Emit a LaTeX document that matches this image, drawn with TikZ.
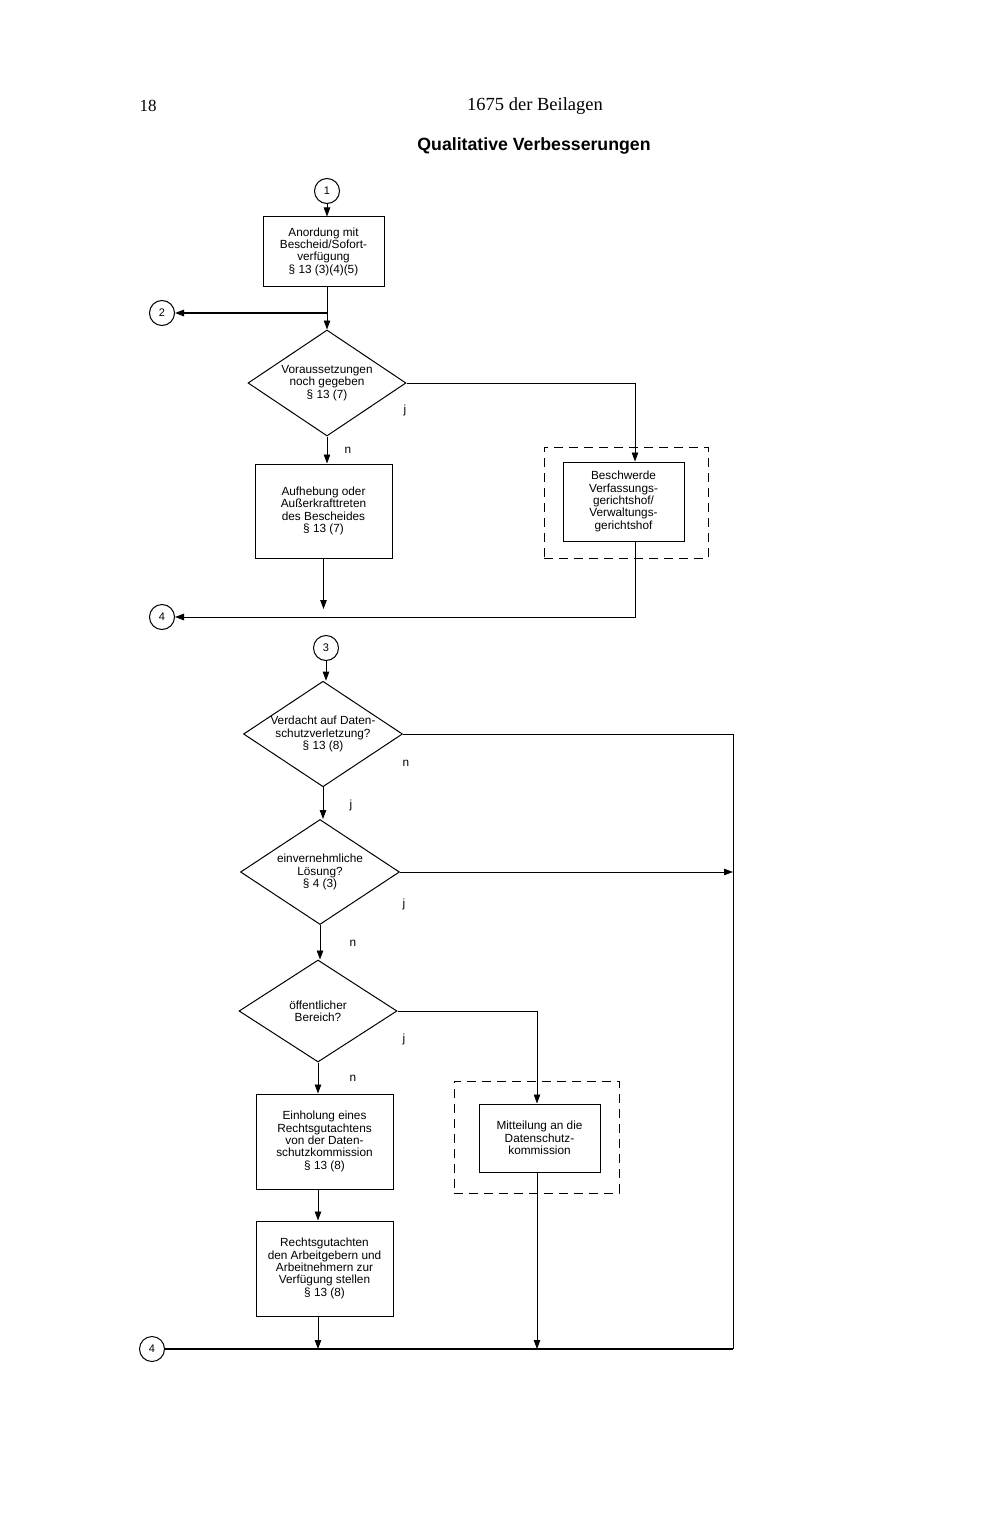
\documentclass[tikz,border=0pt]{standalone}
\usepackage{fontspec}
\setmainfont{Liberation Serif}
\setsansfont{Liberation Sans}
\usetikzlibrary{shapes.geometric,arrows.meta}

\begin{document}
\begin{tikzpicture}[x=1pt, y=-1pt, line width=0.8pt,
  every node/.style={font=\sffamily\fontsize{11.8}{12.3}\selectfont},
  box/.style={draw, line width=1pt, align=center, inner sep=2pt},
  ask/.style={draw, line width=1pt, diamond, aspect=1.5, inner sep=0pt, align=center},
  conn/.style={draw, line width=1pt, circle, minimum size=25pt, inner sep=0pt, font=\sffamily\fontsize{11}{12}\selectfont},
  dashframe/.style={draw, line width=1pt, dash pattern=on 9pt off 6pt, inner sep=0pt},
  arr/.style={-{Triangle[length=9pt,width=6.5pt]}}]
  \useasboundingbox (0,0) rectangle (994,1530);
  \node[font=\rmfamily\fontsize{17}{20}\selectfont] (pnum) at (148,106) {18};
  \node[font=\rmfamily\fontsize{18.5}{22}\selectfont] (hdr) at (535,106) {1675 der Beilagen};
  \node[font=\sffamily\bfseries\fontsize{17.7}{21}\selectfont] (title) at (534,146) {Qualitative Verbesserungen};
  % upper part
  \node[conn] (c1) at (327,191) {1};
  \node[box, minimum width=121pt, minimum height=69pt] (anord) at (323.5,251.5) {Anordung mit\\Bescheid/Sofort-\\verfügung\\§ 13 (3)(4)(5)};
  \node[conn] (c2) at (162,313) {2};
  \node[ask, minimum width=158pt, minimum height=106pt] (vor) at (327,383) {Voraussetzungen\\noch gegeben\\§ 13 (7)};
  \node[box, minimum width=137pt, minimum height=94pt] (aufh) at (323.5,511) {Aufhebung oder\\Außerkrafttreten\\des Bescheides\\§ 13 (7)};
  \node[dashframe, minimum width=164pt, minimum height=111pt] (beschf) at (626,502.5) {};
  \node[box, minimum width=121pt, minimum height=79pt] (besch) at (623.5,501.5) {Beschwerde\\Verfassungs-\\gerichtshof/\\Verwaltungs-\\gerichtshof};
  \node[conn] (c4a) at (162,617) {4};
  \draw[arr] (c1) -- (c1 |- anord.north);
  \draw[arr] (vor.north |- anord.south) -- (vor.north);
  \draw[arr, line width=1.3pt] (vor.north |- c2) -- (c2);
  \draw[arr] (vor.south) -- (vor.south |- aufh.north);
  \draw[arr] (vor.east) -| ([xshift=11.5pt]besch.north);
  \draw[arr] ([xshift=11.5pt]besch.south) |- (c4a);
  \draw[arr, shorten >=8pt] (aufh.south) -- (aufh.south |- c4a);
  % lower part
  \node[conn] (c3) at (326,648) {3};
  \node[ask, minimum width=159pt, minimum height=104pt] (verd) at (323,734) {Verdacht auf Daten-\\schutzverletzung?\\§ 13 (8)};
  \node[ask, minimum width=159pt, minimum height=105pt] (einv) at (320,872) {einvernehmliche\\Lösung?\\§ 4 (3)};
  \node[ask, minimum width=158pt, minimum height=102pt] (oeff) at (318,1011) {öffentlicher\\Bereich?};
  \node[box, minimum width=137pt, minimum height=95pt] (einh) at (324.5,1141.5) {Einholung eines\\Rechtsgutachtens\\von der Daten-\\schutzkommission\\§ 13 (8)};
  \node[box, minimum width=137pt, minimum height=95pt] (recht) at (324.5,1268.5) {Rechtsgutachten\\den Arbeitgebern und\\Arbeitnehmern zur\\Verfügung stellen\\§ 13 (8)};
  \node[dashframe, minimum width=165pt, minimum height=112pt] (mittf) at (536.5,1137) {};
  \node[box, minimum width=121pt, minimum height=68pt] (mitt) at (539.5,1138) {Mitteilung an die\\Datenschutz-\\kommission};
  \node[conn] (c4b) at (152,1349) {4};
  \coordinate (rr) at (733,1349);
  \draw[arr] (c3) -- (c3 |- verd.north);
  \draw (verd.east) -| (rr);
  \draw[line width=1.1pt] (rr) -- (c4b);
  \draw[arr] (verd.south) -- (verd.south |- einv.north);
  \draw[arr] (einv.east) -- (einv.east -| rr);
  \draw[arr] (einv.south) -- (einv.south |- oeff.north);
  \draw[arr] (oeff.east) -| ([xshift=-2.5pt]mitt.north);
  \draw[arr] (oeff.south) -- (oeff.south |- einh.north);
  \draw[arr] (einh.south -| oeff.south) -- (recht.north -| oeff.south);
  \draw[arr] (recht.south -| oeff.south) -- (oeff.south |- c4b);
  \draw[arr] ([xshift=-2.5pt]mitt.south) -- ([xshift=-2.5pt]mitt.south |- c4b);
  % branch letters
  \foreach \nm/\pos/\lab in {lj1/{405,410}/j, ln1/{348,450}/n, ln2/{406,763}/n, lj2/{351,805}/j,
      lj3/{404,904}/j, ln3/{353,943}/n, lj4/{404,1039}/j, ln4/{353,1078}/n}
    \node (\nm) at (\pos) {\lab};
\end{tikzpicture}
\end{document}
